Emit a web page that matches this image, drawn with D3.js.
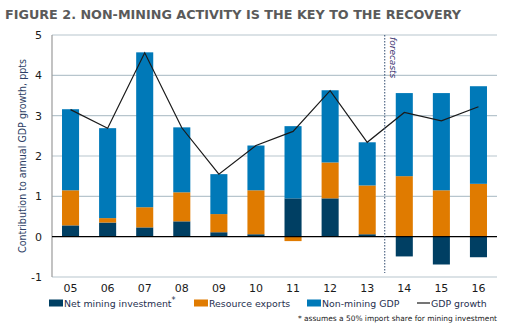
<!DOCTYPE html>
<html>
<head>
<meta charset="utf-8">
<script src="https://cdn.jsdelivr.net/npm/d3@7"></script>
<style>
  body { margin: 0; background: #fff; }
  svg { display: block; font-family: "DejaVu Sans", Verdana, sans-serif; }
</style>
</head>
<body>
<script>
// Contributions to annual GDP growth, ppts
const years = ["05", "06", "07", "08", "09", "10", "11", "12", "13", "14", "15", "16"];
const miningInvestment = [0.28, 0.35, 0.23, 0.38, 0.11, 0.06, 0.95, 0.95, 0.06, -0.49, -0.69, -0.51];
const resourceExports = [0.87, 0.11, 0.50, 0.72, 0.45, 1.09, -0.11, 0.89, 1.21, 1.50, 1.15, 1.31];
const nonMiningGdp = [2.01, 2.23, 3.84, 1.61, 0.99, 1.11, 1.79, 1.79, 1.07, 2.06, 2.41, 2.42];
const gdpGrowth = [3.15, 2.69, 4.56, 2.70, 1.55, 2.26, 2.61, 3.62, 2.34, 3.08, 2.87, 3.22];
const yTicks = [-1, 0, 1, 2, 3, 4, 5];
const firstForecast = "14";

const seriesKeys = ["mining", "exports", "nonmining"];
const seriesNames = ["Net mining investment", "Resource exports", "Non-mining GDP"];
const colors = ["#003f63", "#e07b00", "#0079b8"];

const width = 528, height = 332;
const margin = { top: 35, right: 31, bottom: 55, left: 52 };

const rows = years.map((y, i) => ({
  year: y,
  mining: miningInvestment[i],
  exports: resourceExports[i],
  nonmining: nonMiningGdp[i],
  gdp: gdpGrowth[i]
}));

const svg = d3.select("body").append("svg")
  .attr("width", width)
  .attr("height", height);

svg.append("text")
  .attr("x", 5)
  .attr("y", 19)
  .attr("font-size", 12)
  .attr("font-weight", "bold")
  .attr("fill", "#5a5a5a")
  .attr("textLength", 456)
  .attr("lengthAdjust", "spacingAndGlyphs")
  .text("FIGURE 2. NON-MINING ACTIVITY IS THE KEY TO THE RECOVERY");

const x = d3.scaleBand()
  .domain(years)
  .range([margin.left, width - margin.right])
  .paddingInner(0.54)
  .paddingOuter(0.27);

const y = d3.scaleLinear()
  .domain([-1, 5])
  .range([height - margin.bottom, margin.top]);

// gridlines
svg.append("g")
  .selectAll("line")
  .data(yTicks.filter(d => d !== 0))
  .join("line")
  .attr("x1", margin.left)
  .attr("x2", width - margin.right)
  .attr("y1", d => y(d))
  .attr("y2", d => y(d))
  .attr("stroke", "#b7c5cd")
  .attr("stroke-width", 1.2);

// left axis
svg.append("line")
  .attr("x1", margin.left).attr("x2", margin.left)
  .attr("y1", y(5)).attr("y2", y(-1))
  .attr("stroke", "#9a9a9a")
  .attr("stroke-width", 1.2);

svg.append("g")
  .selectAll("text")
  .data(yTicks)
  .join("text")
  .attr("x", margin.left - 10)
  .attr("y", d => y(d))
  .attr("dy", "0.35em")
  .attr("text-anchor", "end")
  .attr("font-size", 11)
  .attr("fill", "#1a1a1a")
  .text(d => d);

svg.append("text")
  .attr("transform", `translate(26,${(y(5) + y(-1)) / 2}) rotate(-90)`)
  .attr("text-anchor", "middle")
  .attr("font-size", 10.5)
  .attr("fill", "#2e3f66")
  .attr("textLength", 194)
  .attr("lengthAdjust", "spacingAndGlyphs")
  .text("Contribution to annual GDP growth, ppts");

// stacked bars
const stack = d3.stack()
  .keys(seriesKeys)
  .offset(d3.stackOffsetDiverging);

const layers = stack(rows);

svg.append("g")
  .selectAll("g")
  .data(layers)
  .join("g")
  .attr("fill", (d, i) => colors[i])
  .selectAll("rect")
  .data(d => d)
  .join("rect")
  .attr("x", d => x(d.data.year))
  .attr("width", x.bandwidth())
  .attr("y", d => y(Math.max(d[0], d[1])))
  .attr("height", d => Math.abs(y(d[0]) - y(d[1])));

// zero line
svg.append("line")
  .attr("x1", margin.left).attr("x2", width - margin.right)
  .attr("y1", y(0)).attr("y2", y(0))
  .attr("stroke", "#000")
  .attr("stroke-width", 1.3);

// GDP growth line
const line = d3.line()
  .x(d => x(d.year) + x.bandwidth() / 2)
  .y(d => y(d.gdp));

svg.append("path")
  .datum(rows)
  .attr("d", line)
  .attr("fill", "none")
  .attr("stroke", "#1a1a1a")
  .attr("stroke-width", 1.2);

// forecast divider
const fx = x(firstForecast) - x.step() * x.paddingInner() / 2 - 1;
svg.append("line")
  .attr("x1", fx).attr("x2", fx)
  .attr("y1", y(5)).attr("y2", y(-1) - 4)
  .attr("stroke", "#2f4a6e")
  .attr("stroke-width", 1)
  .attr("stroke-dasharray", "1.5,1.5");

svg.append("text")
  .attr("transform", `translate(${fx + 5},${y(5) + 2}) rotate(90)`)
  .attr("font-size", 9)
  .attr("font-style", "italic")
  .attr("fill", "#3b3470")
  .text("forecasts");

// x labels
svg.append("g")
  .selectAll("text")
  .data(years)
  .join("text")
  .attr("x", d => x(d) + x.bandwidth() / 2)
  .attr("y", 292)
  .attr("text-anchor", "middle")
  .attr("font-size", 11)
  .attr("fill", "#1a1a1a")
  .text(d => d);

// legend
const legend = svg.append("g").attr("font-size", 9.4).attr("fill", "#1f2f4f");
const swatchX = [49, 194, 307];
seriesNames.forEach((name, i) => {
  legend.append("rect")
    .attr("x", swatchX[i]).attr("y", 299.5)
    .attr("width", 14).attr("height", 7)
    .attr("fill", colors[i]);
  const t = legend.append("text")
    .attr("x", swatchX[i] + 15)
    .attr("y", 307)
    .text(name);
  // mining investment footnote marker
  if (i === 0) {
    t.append("tspan")
      .attr("font-size", 8)
      .attr("dy", -4)
      .text("*");
  }
});
legend.append("line")
  .attr("x1", 417).attr("x2", 430)
  .attr("y1", 303).attr("y2", 303)
  .attr("stroke", "#1a1a1a")
  .attr("stroke-width", 1.2);
legend.append("text")
  .attr("x", 431)
  .attr("y", 307)
  .text("GDP growth");

svg.append("text")
  .attr("x", 298)
  .attr("y", 321)
  .attr("font-size", 7.5)
  .attr("fill", "#1a1a1a")
  .attr("textLength", 199)
  .attr("lengthAdjust", "spacingAndGlyphs")
  .text("* assumes a 50% import share for mining investment");
</script>
</body>
</html>
